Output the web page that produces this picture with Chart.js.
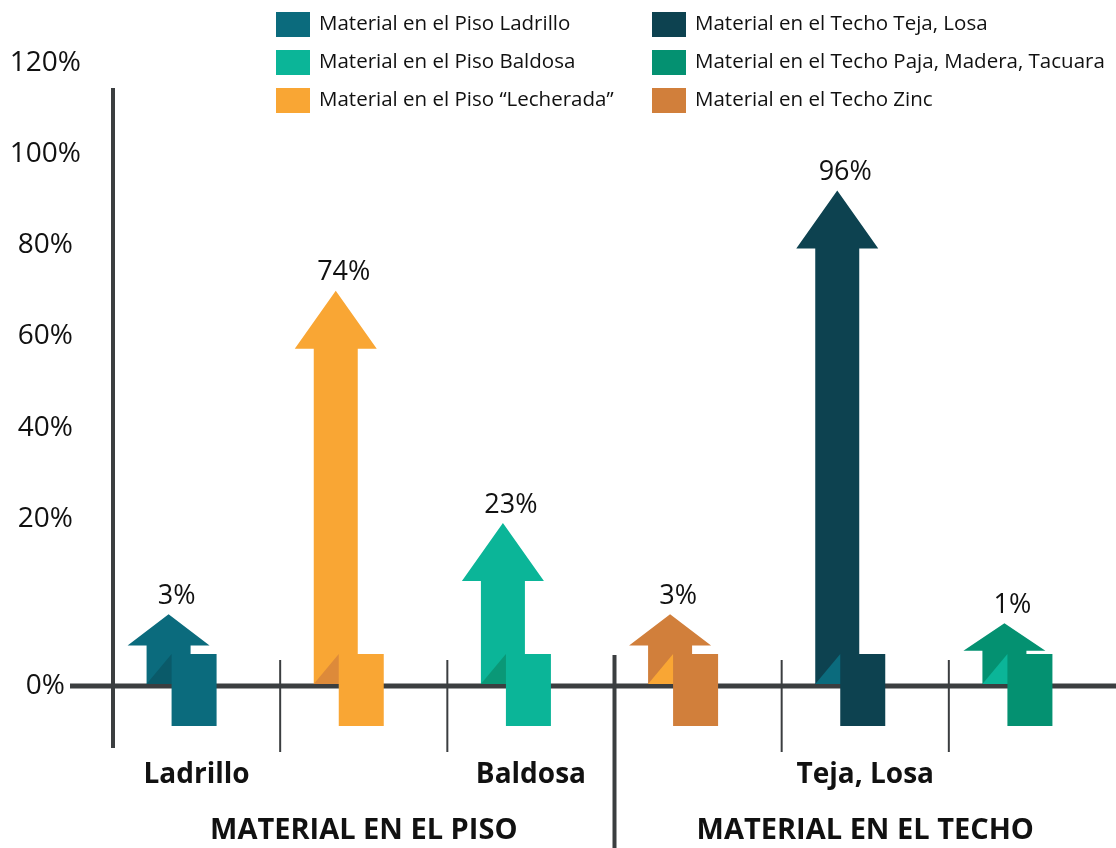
<!DOCTYPE html>
<html>
<head>
<meta charset="utf-8">
<script src="https://cdn.jsdelivr.net/npm/chart.js@4.4.1/dist/chart.umd.min.js"></script>
<style>
  html, body { margin: 0; padding: 0; background: #fff; }
  canvas { display: block; }
</style>
</head>
<body>
<canvas id="materialChart" width="1116" height="848"></canvas>
<script>
// materiales de piso y techo
const materials = [
  'Material en el Piso Ladrillo',
  'Material en el Piso \u201cLecherada\u201d',
  'Material en el Piso Baldosa',
  'Material en el Techo Zinc',
  'Material en el Techo Teja, Losa',
  'Material en el Techo Paja, Madera, Tacuara'
];
const percents = [3, 74, 23, 3, 96, 1];
const axisLabels = ['Ladrillo', '', 'Baldosa', '', 'Teja, Losa', ''];
const groupTitles = ['MATERIAL EN EL PISO', 'MATERIAL EN EL TECHO'];
const yTicks = [0, 20, 40, 60, 80, 100, 120];

const colors = ['#0b6b7d', '#f9a634', '#0bb598', '#d17f3b', '#0d4250', '#049171'];
const foldColors = ['#0a5a69', '#dd8a3a', '#0a9877', '#f9a634', '#0b6b7d', '#0bb598'];
// legend columns (indexes into materials)
const legendColumns = [[0, 2, 1], [4, 5, 3]];

// the 0% line sits below a short break so the small arrows keep their base
const AXIS_BREAK = -16.7;
const FONT = "'Open Sans', sans-serif";
const LINE = '#3b3e40';

function drawArrow(c, cx, tip, base, color, fold) {
  const headH = Math.min(58, (base - tip) * 0.45);
  const neck = tip + headH;
  c.fillStyle = color;
  c.beginPath();
  c.moveTo(cx, tip);
  c.lineTo(cx + 41, neck);
  c.lineTo(cx + 22, neck);
  c.lineTo(cx + 22, base);
  c.lineTo(cx - 22, base);
  c.lineTo(cx - 22, neck);
  c.lineTo(cx - 41, neck);
  c.closePath();
  c.fill();
  // folded square at the foot of the arrow
  c.fillRect(cx + 3, base - 30, 45, 72);
  c.fillStyle = fold;
  c.beginPath();
  c.moveTo(cx - 22, base);
  c.lineTo(cx + 3, base - 30);
  c.lineTo(cx + 3, base);
  c.closePath();
  c.fill();
}

const arrowPlugin = {
  id: 'materialArrows',
  beforeDatasetsDraw(chart) {
    const c = chart.ctx;
    const x = chart.scales.x;
    const y = chart.scales.y;
    const baseY = y.getPixelForValue(AXIS_BREAK);
    c.save();
    // dividers between categories
    for (let i = 0; i < percents.length - 1; i++) {
      const dx = (x.getPixelForValue(i) + x.getPixelForValue(i + 1)) / 2;
      const thick = i === 2;
      c.strokeStyle = LINE;
      c.lineWidth = thick ? 4 : 2;
      c.beginPath();
      c.moveTo(dx, baseY - (thick ? 31 : 26));
      c.lineTo(dx, thick ? chart.height : baseY + 66);
      c.stroke();
    }
    // vertical axis
    c.lineWidth = 4;
    c.beginPath();
    c.moveTo(chart.chartArea.left, 88);
    c.lineTo(chart.chartArea.left, baseY + 62);
    c.stroke();
    // horizontal 0% line
    c.lineWidth = 5;
    c.beginPath();
    c.moveTo(70, baseY);
    c.lineTo(chart.width, baseY);
    c.stroke();
    c.restore();
  },
  afterDatasetsDraw(chart) {
    const c = chart.ctx;
    const y = chart.scales.y;
    const meta = chart.getDatasetMeta(0);
    const base = y.getPixelForValue(AXIS_BREAK) - 2;
    c.save();
    meta.data.forEach((bar, i) => {
      const cx = bar.x - 28;
      drawArrow(c, cx, bar.y + 18, base, colors[i], foldColors[i]);
      c.fillStyle = '#111';
      c.font = '27px ' + FONT;
      c.textAlign = 'center';
      c.textBaseline = 'middle';
      c.fillText(percents[i] + '%', cx + 8, bar.y);
    });
    c.restore();
  },
  afterDraw(chart) {
    const c = chart.ctx;
    const x = chart.scales.x;
    c.save();
    // legend
    c.font = '20.5px ' + FONT;
    c.textBaseline = 'middle';
    c.textAlign = 'left';
    const colX = [276, 652];
    const rowY = [24, 62, 100];
    legendColumns.forEach((col, ci) => {
      col.forEach((idx, ri) => {
        c.fillStyle = colors[idx];
        c.fillRect(colX[ci], rowY[ri] - 12, 34, 25);
        c.fillStyle = '#111';
        c.fillText(materials[idx], colX[ci] + 43, rowY[ri]);
      });
    });
    // group titles under each half
    c.font = 'bold 29px ' + FONT;
    c.textAlign = 'center';
    c.fillStyle = '#111';
    groupTitles.forEach((t, g) => {
      const gx = (x.getPixelForValue(g * 3) + x.getPixelForValue(g * 3 + 2)) / 2;
      c.fillText(t, gx, 831);
    });
    c.restore();
  }
};

const ctx = document.getElementById('materialChart').getContext('2d');
new Chart(ctx, {
  type: 'bar',
  data: {
    labels: axisLabels,
    datasets: [{
      label: 'Material',
      data: percents,
      backgroundColor: 'rgba(0,0,0,0)',
      borderWidth: 0
    }]
  },
  options: {
    responsive: false,
    animation: false,
    devicePixelRatio: 1,
    layout: { padding: { top: 63, left: 0, right: 0, bottom: 0 } },
    plugins: {
      legend: { display: false },
      tooltip: { enabled: false }
    },
    scales: {
      x: {
        grid: { display: false, drawTicks: false },
        border: { display: false },
        ticks: {
          padding: 72,
          maxRotation: 0,
          autoSkip: false,
          color: '#111',
          font: { family: FONT, size: 28, weight: 'bold' }
        },
        afterFit(scale) { scale.height = 162; }
      },
      y: {
        min: AXIS_BREAK,
        max: 120,
        grid: { display: false, drawTicks: false },
        border: { display: false },
        afterBuildTicks(scale) {
          scale.ticks = yTicks.map(v => ({ value: v === 0 ? AXIS_BREAK : v }));
        },
        ticks: {
          padding: 32,
          crossAlign: 'center',
          color: '#111',
          font: { family: FONT, size: 28 },
          callback: (value) => (value === AXIS_BREAK ? 0 : value) + '%'
        },
        afterFit(scale) { scale.width = 113; }
      }
    }
  },
  plugins: [arrowPlugin]
});
</script>
</body>
</html>
